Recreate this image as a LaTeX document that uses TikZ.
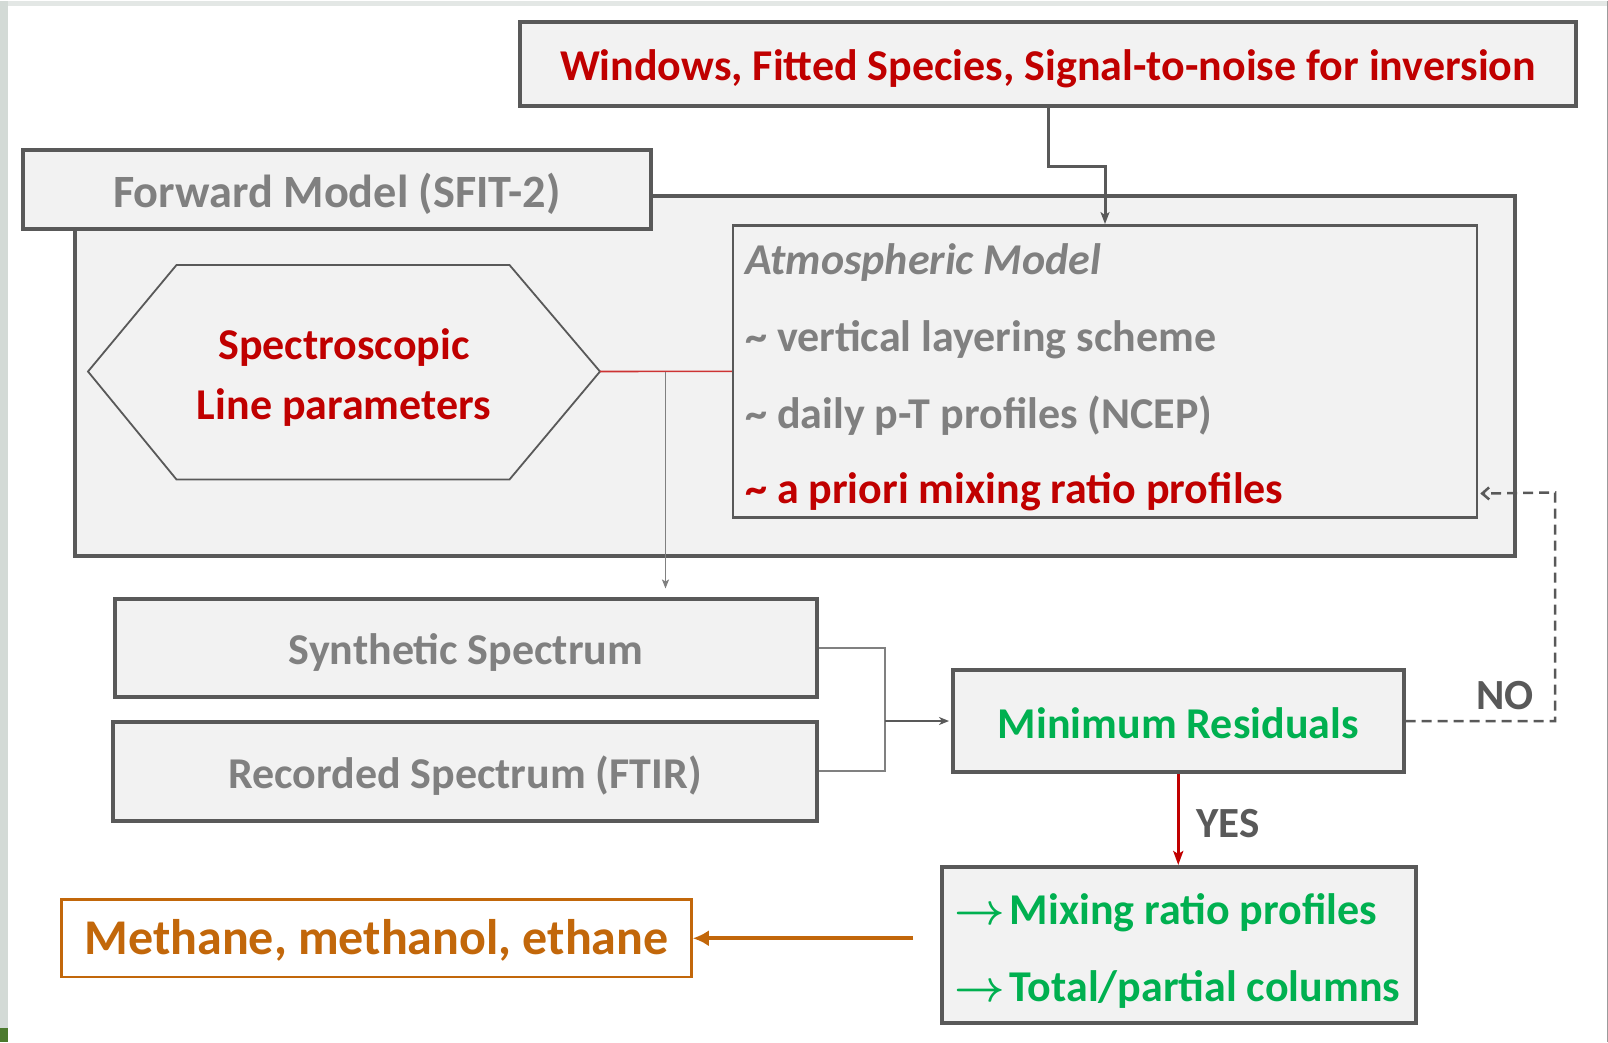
\RequirePackage{fix-cm}
\documentclass[tikz,border=0pt]{standalone}
\usepackage{fontspec}
\setmainfont{Carlito}
\usetikzlibrary{arrows.meta,calc}
\definecolor{boxfill}{HTML}{F2F2F2}
\definecolor{boxline}{HTML}{595959}
\definecolor{txtgray}{HTML}{808080}
\definecolor{txtred}{HTML}{C00000}
\definecolor{txtgreen}{HTML}{00B050}
\definecolor{txtorange}{HTML}{C2670A}
\definecolor{lblgray}{HTML}{595959}
\definecolor{edgeleft}{HTML}{D3DAD6}
\definecolor{edgetop}{HTML}{E3E7E5}
\definecolor{leafgreen}{HTML}{4C7A2E}
\newcommand{\resarrow}{{\boldmath$\rightarrow$}\hspace{5pt}}
\begin{document}
\begin{tikzpicture}[x=1pt,y=-1pt,
  font=\bfseries,
  box/.style={draw=boxline, fill=boxfill, line width=4pt, inner sep=0pt, text height=34pt, text depth=0pt},
  thinbox/.style={draw=boxline, fill=boxfill, line width=2.5pt, inner sep=0pt},
  bigtxt/.style={font=\fontsize{44}{50}\selectfont\bfseries},
  linetxt/.style={anchor=west, bigtxt, inner sep=0pt},
  lbltxt/.style={text=lblgray, font=\fontsize{43}{48}\selectfont\bfseries},
]
% page and frame
\fill[white] (0,0) rectangle (1608,1041);
\fill[edgetop] (0,0) rectangle (1608,5.5);
\fill[edgeleft] (0,0) rectangle (7.5,1041);
\fill[leafgreen] (0,1027) rectangle (7.5,1041);
\draw[boxline!60, line width=1pt] (1607.5,0) -- (1607.5,1041);
\useasboundingbox (0,0) rectangle (1608,1041);

% forward model frame
\node[box, minimum width=1440pt, minimum height=360pt] (outer) at (795,375) {};
\node[box, minimum width=628pt, minimum height=79pt, text=txtgray, text height=36pt,
      font=\fontsize{46.3}{52}\selectfont\bfseries] (title) at (337,188.5) {Forward Model (SFIT-2)};

% inversion settings
\node[box, minimum width=1056pt, minimum height=84pt, text=txtred, text height=32pt, bigtxt] (top) at (1048,63.5) {Windows, Fitted Species, Signal-to-noise for inversion};

% spectroscopic hexagon
\draw[boxline, line width=1.8pt] (88,371) -- (176.5,264.5) -- (509.5,264.5) -- (600,371) -- (509.5,479) -- (176.5,479) -- cycle;
\coordinate (hexR) at (600,371);
\node[text=txtred, bigtxt, align=center] (hex) at (344,377) {Spectroscopic\\[10pt]Line parameters};

% atmospheric model
\node[thinbox, minimum width=744pt, minimum height=292pt] (atm) at (1105,370.8) {};
\node[linetxt, text=txtgray] (atm1) at (745,262.5) {\itshape Atmospheric Model};
\node[linetxt, text=txtgray] (atm2) at (745,339.5) {\textasciitilde\ vertical layering scheme};
\node[linetxt, text=txtgray] (atm3) at (745,415.5) {\textasciitilde\ daily p-T profiles (NCEP)};
\node[linetxt, text=txtred] (atm4) at (745,491) {\textasciitilde\ a priori mixing ratio profiles};

% spectra
\node[box, minimum width=702pt, minimum height=98.5pt, text=txtgray, bigtxt] (synth) at (466,647.25) {Synthetic Spectrum};
\node[box, minimum width=704pt, minimum height=99.5pt, text=txtgray, bigtxt] (rec) at (465,770.75) {Recorded Spectrum (FTIR)};

% residual test
\node[box, minimum width=450.5pt, minimum height=102pt, text=txtgreen, bigtxt] (minr) at (1178.25,720.5) {Minimum Residuals};
\node[box, minimum width=474.5pt, minimum height=156pt] (res) at (1178.75,944.5) {};
\node[linetxt, text=txtgreen] (res1) at (954,912) {\resarrow Mixing ratio profiles};
\node[linetxt, text=txtgreen] (res2) at (954,988.5) {\resarrow Total/partial columns};

% species
\node[draw=txtorange, line width=2.5pt, minimum width=630pt, minimum height=77.5pt, inner sep=0pt,
      text height=33pt, text depth=0pt, text=txtorange, font=\fontsize{50}{56}\selectfont\bfseries] (species) at (376.5,937.75) {Methane, methanol, ethane};

% connectors
\draw[boxline, line width=3pt, -{Stealth[length=12pt,width=9pt,inset=3pt]}] (top.south) -- ++(0,58.5) -| (atm.north);
\draw[txtred!80, line width=1.6pt] (hexR) -- (atm.west);
\coordinate (split) at (665.5,371);
\draw[txtgray, line width=1.6pt, -{Stealth[length=9pt,width=7pt,inset=2pt]}, shorten >=8pt] (split) -- (split |- synth.north);
\coordinate (join) at (885,720.5);
\draw[txtgray, line width=1.6pt] (synth.east) -| (join) |- (rec.east);
\draw[boxline, line width=2.2pt, -{Stealth[length=10pt,width=8pt,inset=3pt]}, shorten >=2pt] (join) -- (minr.west);
\draw[boxline, line width=2.5pt, dash pattern=on 10pt off 6pt, -{Straight Barb[length=7pt,width=12pt]}, shorten >=2pt]
  (minr.east) -| ++(149.5,-228.5) -- ($(atm.south east)+(0,-25)$);
\node[lbltxt] (nolbl) at (1505,695) {NO};
\draw[txtred, line width=3pt, -{Stealth[length=14pt,width=10pt,inset=3pt]}] (minr.south) -- (minr.south |- res.north);
\node[lbltxt] (yeslbl) at (1228,823) {YES};
\coordinate (otail) at (913,937.75);
\draw[txtorange, line width=4pt, -{Latex[length=16pt,width=16pt]}] (otail) -- (species.east);
\end{tikzpicture}
\end{document}
